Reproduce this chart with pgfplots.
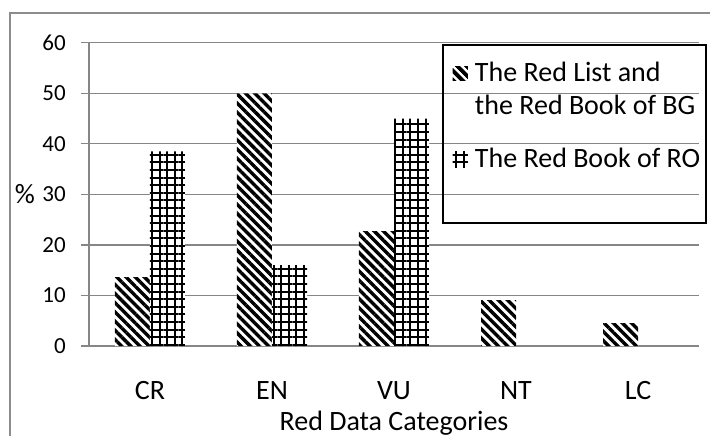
\documentclass[border=0pt]{standalone}
\usepackage{fontspec}
\setmainfont{Carlito}
\usepackage{pgfplots}
\pgfplotsset{compat=1.18}
\usetikzlibrary{patterns.meta}

\definecolor{gridgray}{RGB}{134,134,134}
\definecolor{framegray}{RGB}{140,140,140}
\tikzset{
  bgpat/.style={pattern={Lines[angle=-45,distance=6.5bp,line width=3.4bp]}},
  ropat/.style={pattern={Hatch[angle=0,distance=7.6bp,line width=2bp]}},
}

\begin{document}
\begin{tikzpicture}
\useasboundingbox (-89bp,-90bp) rectangle (621bp,346bp);
% outer chart frame (only left and top edges are inside the picture)
\draw[framegray, line width=1.2bp] (-79bp,-100bp) -- (-79bp,333bp) -- (640bp,333bp);
\begin{axis}[
  scale only axis,
  width=610bp, height=303.3bp,
  clip=false,
  ybar,
  xmin=-0.5, xmax=4.5,
  ymin=0, ymax=60,
  xtick={0,1,2,3,4},
  xticklabels={CR,EN,VU,NT,LC},
  ytick={0,10,20,30,40,50,60},
  axis x line*=bottom, axis y line*=left,
  axis line style={gridgray, line width=1.2bp},
  ymajorgrids,
  grid style={gridgray, line width=1.2bp},
  tick align=outside, major tick length=8bp,
  ytick style={gridgray, line width=1.2bp},
  xtick style={draw=none},
  /pgf/number format/assume math mode=true,
  yticklabel style={font=\fontsize{23bp}{27bp}\selectfont, anchor=east, inner sep=0pt, xshift=-15bp},
  xticklabel style={font=\fontsize{28bp}{33bp}\selectfont, anchor=base, inner sep=0pt, yshift=-45.7bp},
  xlabel={Red Data Categories},
  xlabel style={font=\fontsize{28bp}{33bp}\selectfont, at={(axis description cs:0.5,0)}, anchor=base, inner sep=0pt, yshift=-84bp},
  ylabel={\%},
  ylabel style={font=\fontsize{28bp}{33bp}\selectfont, rotate=-90, at={(axis description cs:0,0.5)}, anchor=east, inner sep=0pt, xshift=-54bp},
  legend style={at={(0.5967,0.934)}, anchor=north west, draw=none, fill=none,
    inner sep=0pt, outer sep=0pt, row sep=0pt, column sep=7bp,
    font=\fontsize{28bp}{33bp}\selectfont,
    nodes={inner sep=0pt, text height=19bp, text depth=14bp},
    cells={anchor=base west}},
]
\addplot[draw=none, fill=white, bar width=35bp, bar shift=-17.5bp,
  postaction={bgpat},
  legend image code/.code={
    \fill[white] (0bp,1bp) rectangle (15bp,15bp);
    \fill[bgpat] (0bp,1bp) rectangle (15bp,15bp);}]
  coordinates {(0,13.64) (1,50.0) (2,22.73) (3,9.09) (4,4.55)};
\addlegendentry{The Red List and}
\addlegendimage{empty legend}
\addlegendentry[text depth=34bp]{the Red Book of BG}
\addplot[draw=none, fill=white, bar width=35bp, bar shift=17.5bp,
  postaction={ropat},
  legend image code/.code={
    \fill[white] (0bp,0bp) rectangle (15bp,16bp);
    \fill[ropat] (0bp,0bp) rectangle (15bp,16bp);}]
  coordinates {(0,38.5) (1,16.0) (2,45.0)};
\addlegendentry{The Red Book of RO}
\end{axis}
% legend box
\draw[black, line width=1.3bp] (354bp,123bp) rectangle (617bp,301bp);
\end{tikzpicture}
\end{document}
